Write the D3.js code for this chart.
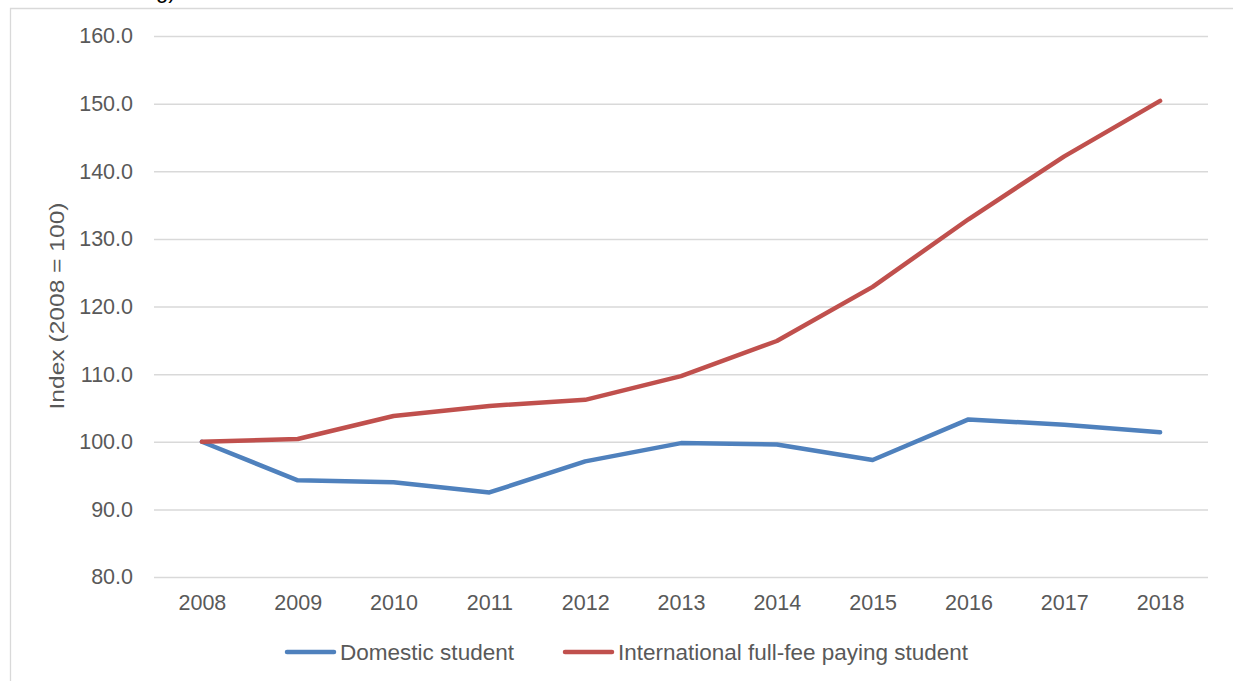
<!DOCTYPE html>
<html>
<head>
<meta charset="utf-8">
<script src="https://cdn.jsdelivr.net/npm/d3@7"></script>
<style>
  html, body { margin: 0; padding: 0; background: #fff; }
  svg { display: block; }
  text { font-family: "Liberation Sans", Arial, sans-serif; }
</style>
</head>
<body>
<svg id="chart" width="1233" height="681"></svg>
<script>
const years = ["2008","2009","2010","2011","2012","2013","2014","2015","2016","2017","2018"];
const domestic = [100.0, 94.3, 94.0, 92.5, 97.1, 99.8, 99.6, 97.3, 103.3, 102.5, 101.4];
const international = [100.0, 100.4, 103.8, 105.3, 106.2, 109.7, 114.9, 122.9, 132.9, 142.2, 150.4];
const yTicks = [80, 90, 100, 110, 120, 130, 140, 150, 160];
const seriesNames = ["Domestic student", "International full-fee paying student"];
const seriesColors = ["#4F81BD", "#C0504D"];
const yTitle = "Index (2008 = 100)";

const svg = d3.select("#chart");
const plotLeft = 154, plotRight = 1208, plotTop = 36, plotBottom = 577;

// Frame (cropped)
svg.append("path")
  .attr("d", "M10.5,681 L10.5,8.5 L1233,8.5")
  .attr("fill", "none").attr("stroke", "#d9d9d9").attr("stroke-width", 1.3);

// cropped title fragment
svg.append("text").attr("x", 156).attr("y", -2)
  .attr("font-size", 22).attr("fill", "#000").text("g)");

const x = d3.scalePoint().domain(years).range([plotLeft, plotRight]).padding(0.5);
const y = d3.scaleLinear().domain([80, 160]).range([plotBottom, plotTop]);

// gridlines
const yAxis = d3.axisLeft(y).tickValues(yTicks).tickSize(-(plotRight - plotLeft)).tickPadding(21)
  .tickFormat(d3.format(".1f"));
const gy = svg.append("g").attr("transform", `translate(${plotLeft},0)`).call(yAxis);
gy.select(".domain").remove();
gy.selectAll(".tick line").attr("stroke", "#d9d9d9").attr("stroke-width", 1.5);
gy.selectAll(".tick text").attr("font-size", 21.5).attr("fill", "#595959")
  .attr("font-family", "Liberation Sans, Arial, sans-serif");

const xAxis = d3.axisBottom(x).tickSize(0).tickPadding(18);
const gx = svg.append("g").attr("transform", `translate(0,${plotBottom})`).call(xAxis);
gx.select(".domain").remove();
gx.selectAll(".tick text").attr("font-size", 21.5).attr("fill", "#595959")
  .attr("font-family", "Liberation Sans, Arial, sans-serif");

// y title
svg.append("text")
  .attr("transform", `translate(64,306) rotate(-90)`)
  .attr("text-anchor", "middle")
  .attr("font-size", 21).attr("fill", "#595959")
  .attr("textLength", 207).attr("lengthAdjust", "spacingAndGlyphs")
  .text(yTitle);

// lines
const line = d3.line().x((d, i) => x(years[i])).y(d => y(d));
[domestic, international].forEach((s, k) => {
  svg.append("path").datum(s)
    .attr("d", line)
    .attr("fill", "none")
    .attr("stroke", seriesColors[k])
    .attr("stroke-width", 4.5)
    .attr("stroke-linejoin", "round")
    .attr("stroke-linecap", "round");
});

// legend
const legendItems = [
  { x0: 287, x1: 334, tx: 340, tl: 174 },
  { x0: 565, x1: 612, tx: 618, tl: 350 }
];
legendItems.forEach((it, k) => {
  svg.append("line")
    .attr("x1", it.x0).attr("x2", it.x1).attr("y1", 652).attr("y2", 652)
    .attr("stroke", seriesColors[k]).attr("stroke-width", 4.5).attr("stroke-linecap", "round");
  svg.append("text")
    .attr("x", it.tx).attr("y", 659.5)
    .attr("font-size", 21.5).attr("fill", "#595959")
    .attr("textLength", it.tl).attr("lengthAdjust", "spacingAndGlyphs")
    .text(seriesNames[k]);
});
</script>
</body>
</html>
